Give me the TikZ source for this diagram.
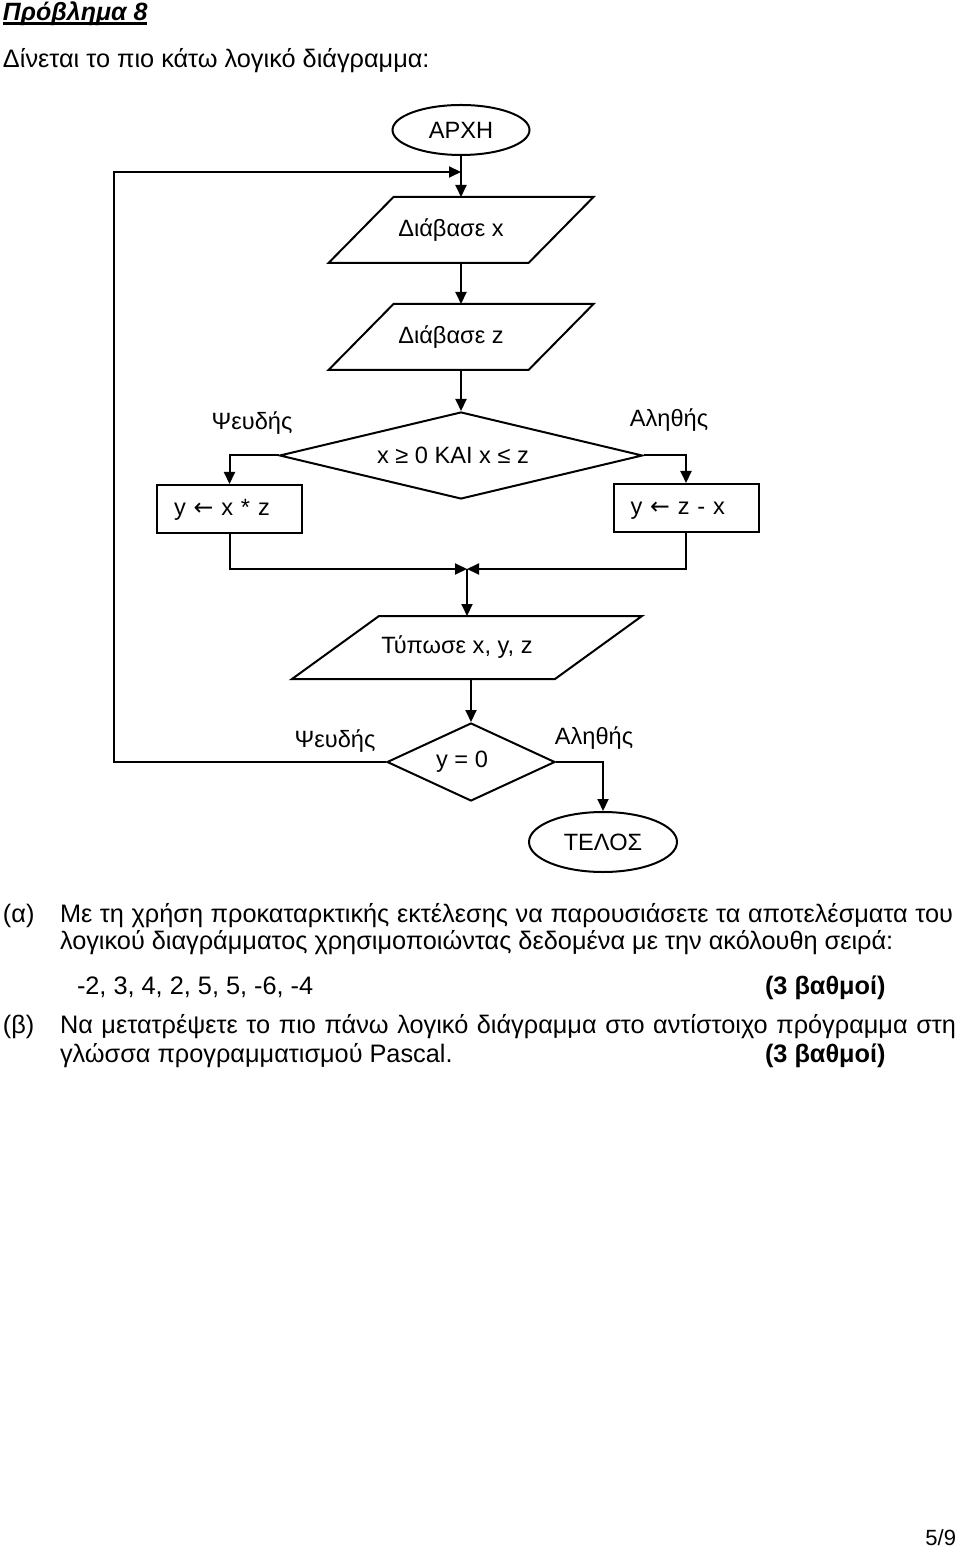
\documentclass[tikz,border=0pt]{standalone}
\usepackage{fontspec}
\setmainfont{Liberation Sans}
\newfontfamily\symfont{DejaVu Sans}
\usetikzlibrary{shapes.geometric,arrows.meta,calc}
\newcommand\dgfont{\fontsize{11.8}{14}\selectfont}
\newcommand\txfont{\fontsize{12.65}{15}\selectfont}
\newcommand\larr{{\symfont ←}}
\begin{document}
\begin{tikzpicture}[x=0.5pt,y=-0.5pt,line width=1pt,
  arr/.style={-{Triangle[length=6pt,width=5.5pt]}},
  term/.style={ellipse,draw,inner sep=0pt,font=\dgfont},
  io/.style={rectangle,draw=none,inner sep=0pt,outer sep=0pt,font=\dgfont},
  proc/.style={rectangle,draw,font=\dgfont,text width=55.5pt,align=left,inner xsep=8.5pt,inner ysep=0pt,minimum height=24pt,text height=9pt,text depth=2.5pt},
  dec/.style={diamond,draw,inner sep=0pt,font=\dgfont},
  lbl/.style={inner sep=0pt,font=\dgfont},
  txt/.style={anchor=base west,inner sep=0pt,outer sep=0pt,font=\txfont}]
\useasboundingbox (0,0) rectangle (960,1550);

% header
\node[txt,font=\fontsize{12.5}{15}\selectfont\bfseries\itshape] (title) at (3,21) {Πρόβλημα 8};
\draw[line width=1.2pt] ([yshift=-1.3pt]title.base west) -- ([yshift=-1.3pt]title.base east);
\node[txt] (intro) at (3,68) {Δίνεται το πιο κάτω λογικό διάγραμμα:};

% flowchart nodes
\node[term,minimum width=68.5pt,minimum height=25pt] (arxh) at (461,130) {ΑΡΧΗ};
\node[io,minimum width=132.5pt,minimum height=33pt] (dx) at (461,230) {Διάβασε x\kern10pt};
\node[io,minimum width=132.5pt,minimum height=33pt] (dz) at (461,337) {Διάβασε z\kern10pt};
\node[dec,aspect=4.17,minimum width=181.5pt,minimum height=43.5pt] (d1) at (461,455.5) {x ≥ 0 ΚΑΙ x ≤ z\kern8pt};
\node[proc] (b1) at (229.5,509) {y \larr{} x * z};
\node[proc] (b2) at (686,508) {y \larr{} z - x};
\node[io,minimum width=175pt,minimum height=31.5pt] (pr) at (467,647.5) {Τύπωσε x, y, z\kern10pt};
\node[dec,aspect=2.15,minimum width=84pt,minimum height=39pt] (y0) at (471,762) {y = 0\kern9pt};
\node[term,minimum width=74pt,minimum height=30pt] (telos) at (603,842) {ΤΕΛΟΣ};

% parallelogram outlines
\draw ([xshift=32.5pt]dx.north west) -- (dx.north east) -- ([xshift=-32.5pt]dx.south east) -- (dx.south west) -- cycle;
\draw ([xshift=32.5pt]dz.north west) -- (dz.north east) -- ([xshift=-32.5pt]dz.south east) -- (dz.south west) -- cycle;
\draw ([xshift=43.5pt]pr.north west) -- (pr.north east) -- ([xshift=-43.5pt]pr.south east) -- (pr.south west) -- cycle;

% branch labels
\node[lbl] (f1) at (252,423) {Ψευδής};
\node[lbl] (t1) at (669,420) {Αληθής};
\node[lbl] (f2) at (335,741) {Ψευδής};
\node[lbl] (t2) at (594,738) {Αληθής};

% helper coordinates
\coordinate (lx) at (114,0);
\coordinate (jtop) at (461,172);
\coordinate (mg) at (467,569);

% connectors
\draw[arr] (arxh.south) -- (dx.north);
\draw[arr] (dx.south) -- (dz.north);
\draw[arr] (dz.south) -- (d1.north);
\draw[arr] (d1.west) -| (b1.north);
\draw[arr] (d1.east) -| (b2.north);
\draw[arr] (b1.south) |- (mg);
\draw[arr] (b2.south) |- (mg);
\draw[arr] (mg) -- (pr.north);
\draw[arr] (y0.north |- pr.south) -- (y0.north);
\draw[arr] (y0.east) -| (telos.north);
\draw[arr] (y0.west) -- (y0.west -| lx) -- (lx |- jtop) -- (jtop);

% questions
\node[txt] (qa) at (3,922) {(α)};
\node[txt] (qa1) at (60,922) {\makebox[446.5pt][s]{Με τη χρήση προκαταρκτικής εκτέλεσης να παρουσιάσετε τα αποτελέσματα του}};
\node[txt] (qa2) at (60,949) {λογικού διαγράμματος χρησιμοποιώντας δεδομένα με την ακόλουθη σειρά:};
\node[txt] (qa3) at (77,994) {-2, 3, 4, 2, 5, 5, -6, -4};
\node[txt,font=\txfont\bfseries] (pa) at (765,994) {(3 βαθμοί)};
\node[txt] (qb) at (3,1033) {(β)};
\node[txt] (qb1) at (60,1033) {\makebox[448pt][s]{Να μετατρέψετε το πιο πάνω λογικό διάγραμμα στο αντίστοιχο πρόγραμμα στη}};
\node[txt] (qb2) at (60,1062) {γλώσσα προγραμματισμού Pascal.};
\node[txt,font=\txfont\bfseries] (pb) at (765,1062) {(3 βαθμοί)};
\node[anchor=base east,inner sep=0pt,font=\fontsize{11}{13}\selectfont] (pg) at (957,1545) {5/9};
\end{tikzpicture}
\end{document}
